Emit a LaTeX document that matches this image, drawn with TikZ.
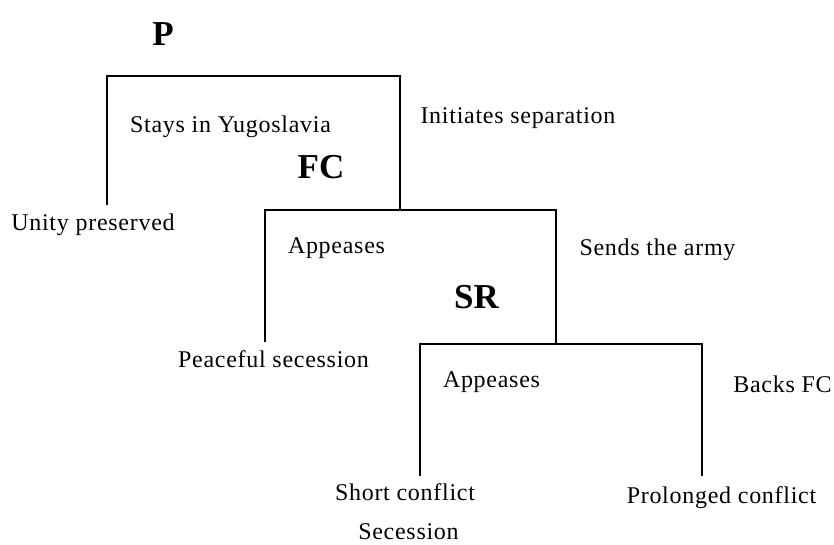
\documentclass[tikz,border=0pt]{standalone}
\usepackage{fontspec}
\setmainfont{Liberation Serif}
\newfontfamily\lblfont[LetterSpace=3.0]{Liberation Serif}
\begin{document}
\begin{tikzpicture}[x=1pt,y=-1pt,
  branch/.style={draw=black, line width=1.7pt, line join=miter},
  lbl/.style={inner sep=0pt, anchor=base, font=\lblfont\fontsize{24}{28}\selectfont},
  player/.style={inner sep=0pt, anchor=base, font=\fontsize{35}{40}\selectfont\bfseries}]
\useasboundingbox (0,0) rectangle (834,544);

% game tree junctions and end points
\coordinate (d1L) at (107,76);
\coordinate (d1R) at (400,76);
\coordinate (e1)  at (107,205);
\coordinate (d2)  at (400,210);
\coordinate (d2L) at (265,210);
\coordinate (d2R) at (556,210);
\coordinate (e2)  at (265,342);
\coordinate (d3)  at (556,344);
\coordinate (d3L) at (420,344);
\coordinate (d3R) at (702,344);
\coordinate (e3)  at (420,476);
\coordinate (e4)  at (702,476);

\draw[branch] (e1) -- (d1L) -- (d1R) -- (d2);
\draw[branch] (e2) -- (d2L) -- (d2R) -- (d3);
\draw[branch] (e3) -- (d3L) -- (d3R) -- (e4);

% players
\node[player] (pP)  at (163,45)  {P};
\node[player] (pFC) at (321,178) {FC};
\node[player] (pSR) at (476.5,308) {SR};

% moves
\node[lbl] (m1a) at (230.5,132) {Stays in Yugoslavia};
\node[lbl] (m1b) at (518,123)   {Initiates separation};
\node[lbl] (m2a) at (336.5,253) {Appeases};
\node[lbl] (m2b) at (657.5,255) {Sends the army};
\node[lbl] (m3a) at (491.5,387) {Appeases};
\node[lbl] (m3b) at (782.5,392) {Backs FC};

% outcomes
\node[lbl] (o1)  at (93,230)    {Unity preserved};
\node[lbl] (o2)  at (273.5,367) {Peaceful secession};
\node[lbl] (o3)  at (405,500)   {Short conflict};
\node[lbl] (o3b) at (408.5,539) {Secession};
\node[lbl] (o4)  at (721.5,503) {Prolonged conflict};
\end{tikzpicture}
\end{document}
